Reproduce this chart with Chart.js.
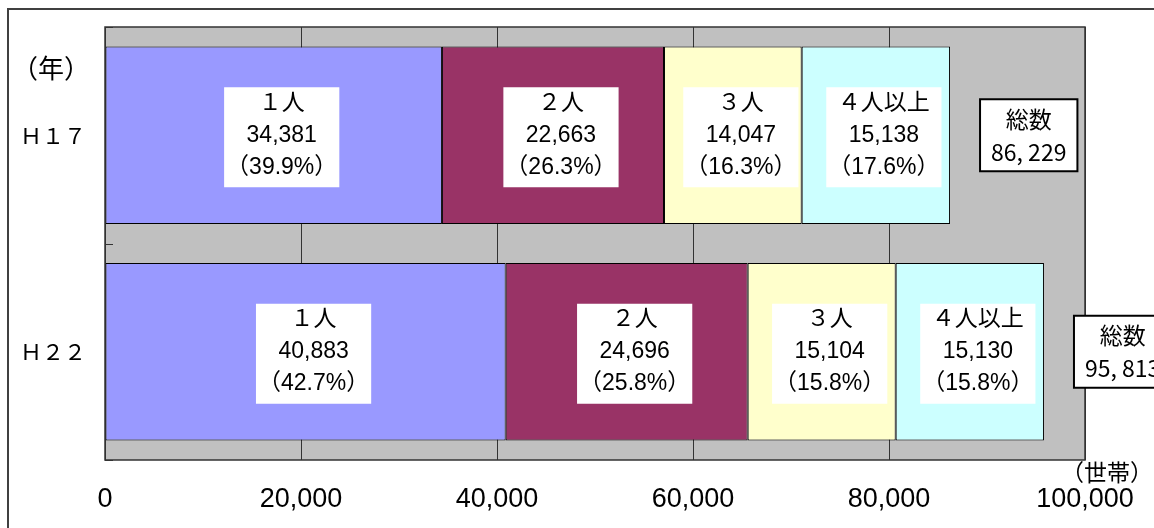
<!DOCTYPE html>
<html>
<head>
<meta charset="utf-8">
<script src="https://cdn.jsdelivr.net/npm/chart.js@4.4.1/dist/chart.umd.min.js"></script>
<style>
  body { margin: 0; background: #fff; }
  canvas { display: block; }
</style>
</head>
<body>
<canvas id="householdChart" width="1154" height="528"></canvas>
<script>
// data
const years = ['Ｈ１７', 'Ｈ２２'];
const groupNames = ['１人', '２人', '３人', '４人以上'];
const onePerson = [34381, 40883];
const twoPerson = [22663, 24696];
const threePerson = [14047, 15104];
const fourPlus = [15138, 15130];
const onePct = [39.9, 42.7];
const twoPct = [26.3, 25.8];
const threePct = [16.3, 15.8];
const fourPct = [17.6, 15.8];
const totals = [86229, 95813];
const xMin = 0;
const xMax = 100000;
const xStep = 20000;

const seriesValues = [onePerson, twoPerson, threePerson, fourPlus];
const seriesPct = [onePct, twoPct, threePct, fourPct];
const seriesColors = ['#9999FF', '#993366', '#FFFFCC', '#CCFFFF'];

const JP = '"Noto Sans CJK JP", sans-serif';
const NUM = '"Liberation Sans", "Noto Sans CJK JP", sans-serif';

// gray plot background, plot frame, outer frame
const frame = {
    id: 'frame',
    beforeDraw(chart) {
        const ctx = chart.ctx;
        const a = chart.chartArea;
        ctx.save();
        ctx.fillStyle = '#C0C0C0';
        ctx.fillRect(a.left, a.top, a.right - a.left, a.bottom - a.top);
        ctx.strokeStyle = '#404040';
        ctx.lineWidth = 2;
        ctx.beginPath();
        ctx.moveTo(8, chart.height);
        ctx.lineTo(8, 9);
        ctx.lineTo(chart.width, 9);
        ctx.stroke();
        ctx.restore();
    },
    afterDatasetsDraw(chart) {
        const ctx = chart.ctx;
        const a = chart.chartArea;
        const yScale = chart.scales.y;
        ctx.save();
        ctx.strokeStyle = '#333';
        ctx.lineWidth = 1.5;
        ctx.strokeRect(a.left, a.top, a.right - a.left, a.bottom - a.top);
        // small inward ticks at category boundaries
        ctx.lineWidth = 1;
        for (let i = 0; i <= years.length; i++) {
            const y = Math.round(yScale.getPixelForValue(i - 0.5)) + 0.5;
            ctx.beginPath();
            ctx.moveTo(a.left, y);
            ctx.lineTo(a.left + 8, y);
            ctx.stroke();
        }
        // unit captions
        ctx.fillStyle = '#000';
        ctx.textBaseline = 'middle';
        ctx.textAlign = 'left';
        ctx.font = '26px ' + JP;
        ctx.fillText('（年）', 12, a.top + 41);
        ctx.textAlign = 'right';
        ctx.font = '23px ' + JP;
        ctx.fillText('（世帯）', chart.width - 1, a.bottom + 12);
        ctx.restore();
    }
};

// white boxes with group / count / share inside each segment
const segmentLabels = {
    id: 'segmentLabels',
    afterDatasetsDraw(chart) {
        const ctx = chart.ctx;
        ctx.save();
        ctx.font = '23px ' + NUM;
        ctx.textAlign = 'center';
        ctx.textBaseline = 'middle';
        chart.data.datasets.forEach((ds, di) => {
            chart.getDatasetMeta(di).data.forEach((bar, i) => {
                const cx = (bar.x + bar.base) / 2 + 8;
                const cy = bar.y;
                const lines = [
                    groupNames[di],
                    ds.data[i].toLocaleString('en-US'),
                    '（' + seriesPct[di][i].toFixed(1) + '%）'
                ];
                const w = Math.max(...lines.map(t => ctx.measureText(t).width)) + 4;
                const h = 100;
                ctx.fillStyle = '#fff';
                ctx.fillRect(cx - w / 2, cy - h / 2 + 2, w, h);
                ctx.fillStyle = '#000';
                lines.forEach((t, k) => ctx.fillText(t, cx, cy - 32 + k * 32));
            });
        });
        ctx.restore();
    }
};

// "総数" boxes to the right of each bar
const totalBoxes = {
    id: 'totalBoxes',
    afterDraw(chart) {
        const ctx = chart.ctx;
        const xScale = chart.scales.x;
        const yScale = chart.scales.y;
        ctx.save();
        ctx.font = '23px ' + JP;
        ctx.textAlign = 'center';
        ctx.textBaseline = 'middle';
        totals.forEach((t, i) => {
            const txt = t.toLocaleString('en-US').replace(',', ', ');
            const w = Math.max(ctx.measureText(txt).width, ctx.measureText('総数').width) + 22;
            const h = 72;
            const left = xScale.getPixelForValue(t) + 30;
            const cy = yScale.getPixelForValue(i);
            ctx.fillStyle = '#fff';
            ctx.fillRect(left, cy - h / 2, w, h);
            ctx.strokeStyle = '#000';
            ctx.lineWidth = 2;
            ctx.strokeRect(left, cy - h / 2, w, h);
            ctx.fillStyle = '#000';
            ctx.fillText('総数', left + w / 2, cy - 16);
            ctx.fillText(txt, left + w / 2, cy + 17);
        });
        ctx.restore();
    }
};

new Chart(document.getElementById('householdChart'), {
    type: 'bar',
    data: {
        labels: years,
        datasets: seriesValues.map((vals, k) => ({
            label: groupNames[k],
            data: vals,
            backgroundColor: seriesColors[k],
            borderColor: '#000',
            borderWidth: 1,
            borderSkipped: false,
            barPercentage: 0.82,
            categoryPercentage: 1
        }))
    },
    options: {
        indexAxis: 'y',
        responsive: false,
        animation: false,
        layout: { padding: { top: 27, right: 69, bottom: 0, left: 20 } },
        scales: {
            x: {
                stacked: true,
                min: xMin,
                max: xMax,
                grid: { color: '#333', lineWidth: 1, drawTicks: false },
                border: { display: false },
                ticks: {
                    stepSize: xStep,
                    padding: 23,
                    color: '#000',
                    font: { family: NUM, size: 27 },
                    callback: v => v.toLocaleString('en-US')
                },
                afterFit: s => { s.height = 68; s.paddingLeft = 0; s.paddingRight = 0; }
            },
            y: {
                stacked: true,
                grid: { display: false },
                border: { display: false },
                ticks: {
                    crossAlign: 'far',
                    color: '#000',
                    font: { family: JP, size: 22 }
                },
                afterFit: s => { s.width = 85; }
            }
        },
        plugins: {
            legend: { display: false },
            tooltip: { enabled: false }
        }
    },
    plugins: [frame, segmentLabels, totalBoxes]
});
</script>
</body>
</html>
